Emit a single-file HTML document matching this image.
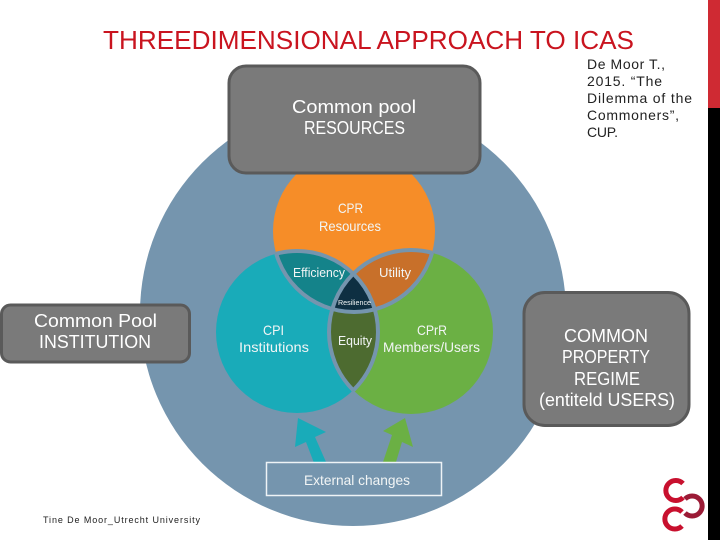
<!DOCTYPE html>
<html>
<head>
<meta charset="utf-8">
<style>
html,body{margin:0;padding:0;background:#fff;width:720px;height:540px;overflow:hidden}
svg{display:block}
text{font-family:"Liberation Sans",sans-serif}
</style>
</head>
<body>
<svg width="720" height="540" viewBox="0 0 720 540" xmlns="http://www.w3.org/2000/svg">
<defs>
<clipPath id="co"><circle cx="354" cy="231" r="81"/></clipPath>
<clipPath id="ct"><circle cx="297" cy="332" r="81"/></clipPath>
<clipPath id="cg"><circle cx="411" cy="332" r="82"/></clipPath>
<clipPath id="xo"><circle cx="297" cy="332" r="81"/><circle cx="411" cy="332" r="82"/></clipPath>
<clipPath id="xt"><circle cx="354" cy="231" r="81"/><circle cx="411" cy="332" r="82"/></clipPath>
<clipPath id="xg"><circle cx="354" cy="231" r="81"/><circle cx="297" cy="332" r="81"/></clipPath>
</defs>
<rect width="720" height="540" fill="#fff"/>
<rect x="708" y="0" width="12" height="108" fill="#cf2a33"/>
<rect x="708" y="108" width="12" height="432" fill="#000"/>

<circle cx="353" cy="313" r="213" fill="#7595ae"/>

<circle cx="354" cy="231" r="81" fill="#f68d28"/>
<circle cx="297" cy="332" r="81" fill="#19abb9"/>
<circle cx="411" cy="332" r="82" fill="#6bb044"/>
<g clip-path="url(#co)"><circle cx="297" cy="332" r="81" fill="#14838a"/><circle cx="411" cy="332" r="82" fill="#c8702a"/></g>
<g clip-path="url(#cg)"><circle cx="297" cy="332" r="81" fill="#4d6b30"/></g>
<g clip-path="url(#co)"><g clip-path="url(#ct)"><circle cx="411" cy="332" r="82" fill="#0e2f42"/></g></g>
<g fill="none" stroke="#7595ae" stroke-width="4">
<g clip-path="url(#xo)"><circle cx="354" cy="231" r="81"/></g>
<g clip-path="url(#xt)"><circle cx="297" cy="332" r="81"/></g>
<g clip-path="url(#xg)"><circle cx="411" cy="332" r="82"/></g>
</g>

<polygon points="298,418 326,432 315,437 326,462 314,463 306,442 295,447" fill="#19abb9"/>
<polygon points="405,418 413,447 402,442 396,462 383,462 392,435 383,431" fill="#6bb044"/>
<rect x="266.500" y="462.500" width="175" height="33" fill="#7595ae" stroke="#eef3f6" stroke-width="1.500"/>

<g fill="#f2f5f5" font-size="14">
<text x="338" y="213" textLength="25" lengthAdjust="spacingAndGlyphs">CPR</text>
<text x="319" y="231" textLength="62" lengthAdjust="spacingAndGlyphs">Resources</text>
<text x="293" y="277" font-size="13" textLength="52" lengthAdjust="spacingAndGlyphs">Efficiency</text>
<text x="379" y="277" font-size="13" textLength="32" lengthAdjust="spacingAndGlyphs">Utility</text>
<text x="338" y="305" font-size="7.500" textLength="33" lengthAdjust="spacingAndGlyphs">Resilience</text>
<text x="338" y="345" font-size="13" textLength="34" lengthAdjust="spacingAndGlyphs">Equity</text>
<text x="263" y="335" textLength="21" lengthAdjust="spacingAndGlyphs">CPI</text>
<text x="239" y="352" textLength="70" lengthAdjust="spacingAndGlyphs">Institutions</text>
<text x="417" y="335" textLength="30" lengthAdjust="spacingAndGlyphs">CPrR</text>
<text x="383" y="352" textLength="97" lengthAdjust="spacingAndGlyphs">Members/Users</text>
<text x="304" y="485" textLength="106" lengthAdjust="spacingAndGlyphs">External changes</text>
</g>

<g fill="#7a7a7a" stroke="#5a5a5a" stroke-width="3">
<rect x="229" y="66" width="251" height="107" rx="17"/>
<rect x="1.500" y="305" width="188" height="57" rx="9"/>
<rect x="524" y="292.500" width="165" height="133" rx="21"/>
</g>

<g fill="#fff" font-size="18">
<text x="292" y="113" textLength="124" lengthAdjust="spacingAndGlyphs">Common pool</text>
<text x="304" y="134" textLength="101" lengthAdjust="spacingAndGlyphs">RESOURCES</text>
<text x="34" y="327" textLength="123" lengthAdjust="spacingAndGlyphs">Common Pool</text>
<text x="39" y="348" textLength="112" lengthAdjust="spacingAndGlyphs">INSTITUTION</text>
<text x="564" y="342" textLength="84" lengthAdjust="spacingAndGlyphs">COMMON</text>
<text x="562" y="363" textLength="88" lengthAdjust="spacingAndGlyphs">PROPERTY</text>
<text x="574" y="385" textLength="66" lengthAdjust="spacingAndGlyphs">REGIME</text>
<text x="539" y="406" textLength="136" lengthAdjust="spacingAndGlyphs">(entiteld USERS)</text>
</g>

<text x="103" y="49" font-size="26" fill="#c9141f" textLength="531" lengthAdjust="spacingAndGlyphs">THREEDIMENSIONAL APPROACH TO ICAS</text>

<g fill="#222" font-size="14">
<text x="587" y="69" textLength="78" lengthAdjust="spacing">De Moor T.,</text>
<text x="587" y="86" textLength="75" lengthAdjust="spacing">2015. “The</text>
<text x="587" y="103" textLength="105" lengthAdjust="spacing">Dilemma of the</text>
<text x="587" y="120" textLength="92" lengthAdjust="spacing">Commoners”,</text>
<text x="587" y="137" textLength="31" lengthAdjust="spacing">CUP.</text>
</g>
<text x="43" y="523" font-size="9" fill="#222" textLength="157" lengthAdjust="spacing">Tine De Moor_Utrecht University</text>

<g fill="none" stroke-width="5" stroke-linecap="butt">
<path d="M683 483.500 A10 10 0 1 0 683 497.500" stroke="#c8102e"/>
<path d="M682 512 A10 10 0 1 0 682 526" stroke="#c8102e"/>
<path d="M685 499 A10 10 0 1 1 685 513" stroke="#9b1b36"/>
</g>
</svg>
</body>
</html>
